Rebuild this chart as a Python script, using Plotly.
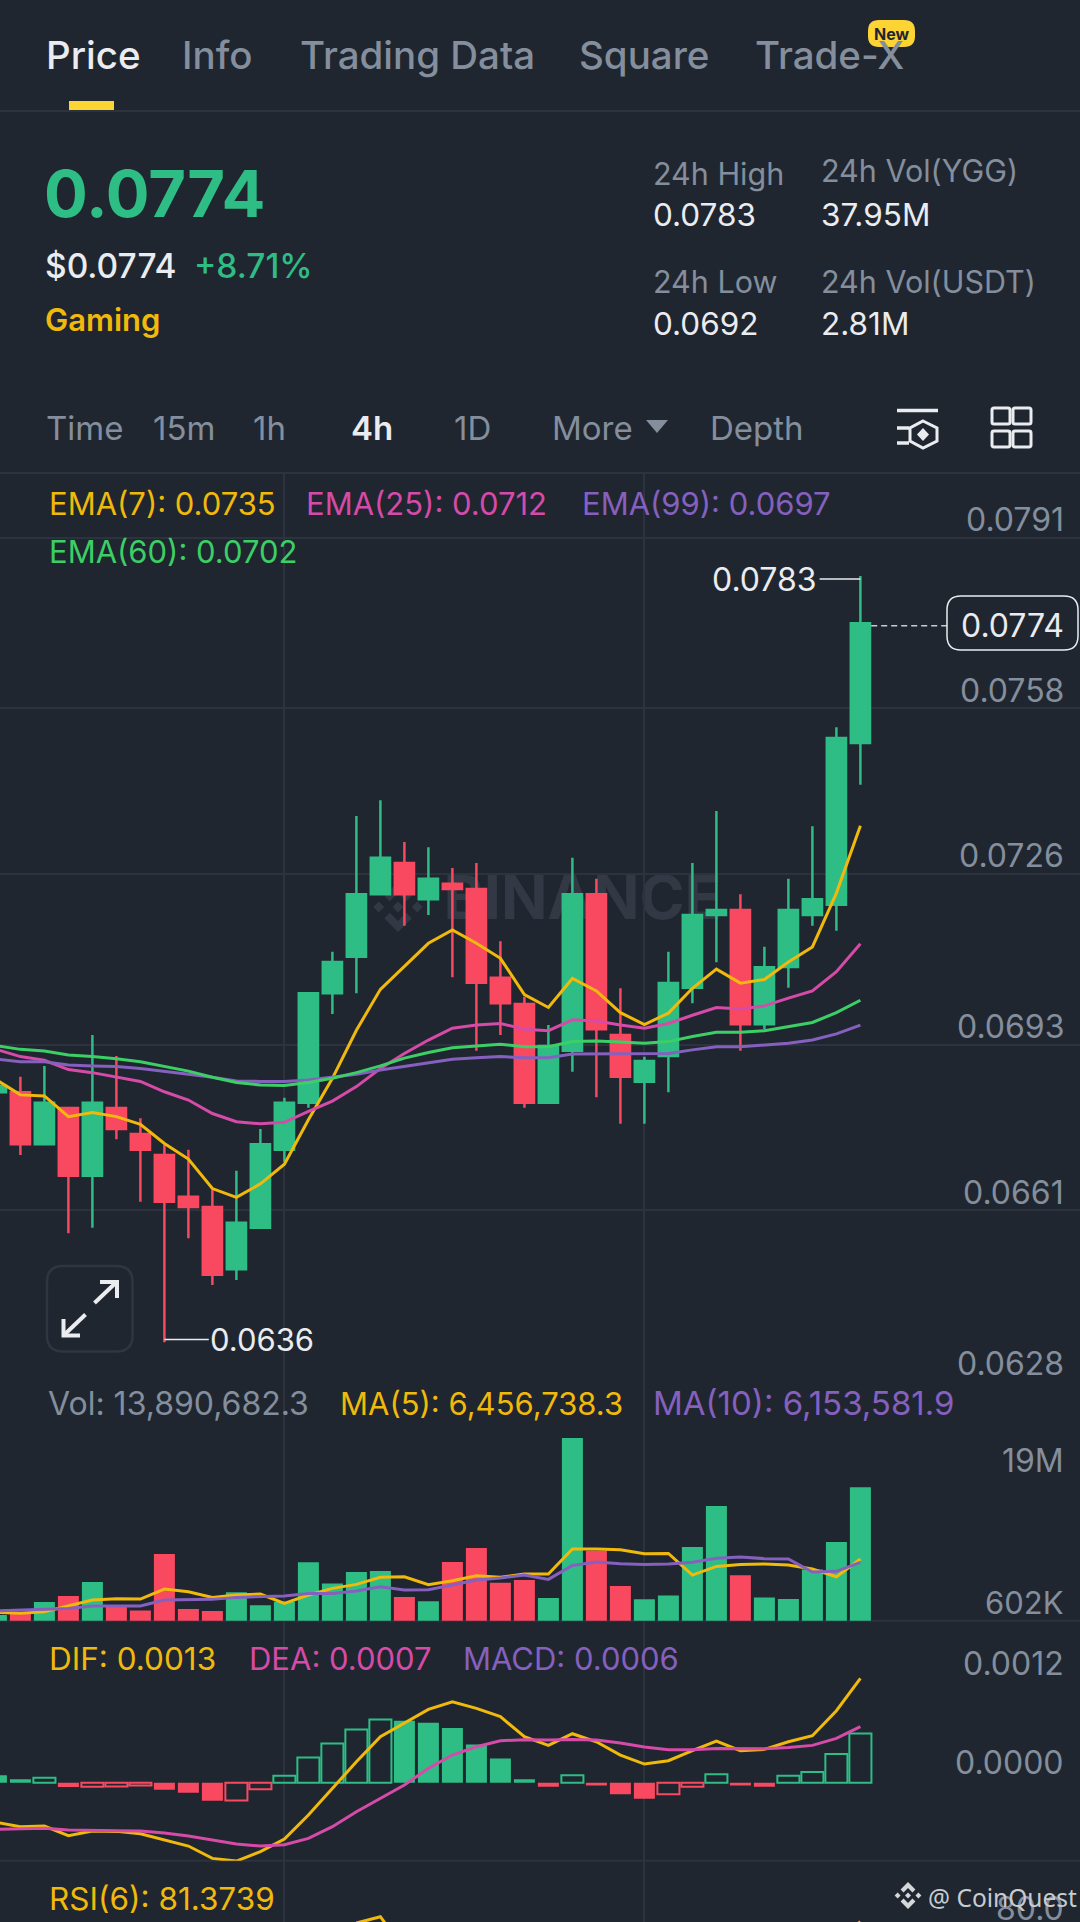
import plotly.graph_objects as go
from plotly.subplots import make_subplots

W, H = 1080, 1922
FONT = "Inter"

BG = "#1f2630"
GRID = "#2c333e"
GREY = "#848e9c"
WHITE = "#eaecef"
UP = "#2ebd85"
DOWN = "#f84960"
YELLOW = "#f0b90b"
PINK = "#d64aa8"
PURPLE = "#8560bf"
LIME = "#3ccf65"

# 4h candles, oldest first
candle = list(range(37))
opens = [0.06838, 0.06838, 0.067375, 0.068077, 0.066768, 0.068077, 0.067574, 0.067168, 0.066362, 0.066163,
         0.064959, 0.065763, 0.06727, 0.068179, 0.070293, 0.071001, 0.072207, 0.072812, 0.07211, 0.072412,
         0.07231, 0.070595, 0.070087, 0.068179, 0.069184, 0.072207, 0.069487, 0.068585, 0.069082, 0.070402,
         0.071807, 0.071904, 0.069694, 0.070802, 0.071807, 0.072006, 0.075132]
highs = [0.0685, 0.068682, 0.068888, 0.068077, 0.069487, 0.069082, 0.067877, 0.067361, 0.06727, 0.066491,
         0.066865, 0.067671, 0.068275, 0.070293, 0.071098, 0.073721, 0.074024, 0.073218, 0.073116, 0.072715,
         0.072812, 0.071299, 0.070228, 0.069681, 0.072915, 0.072509, 0.07039, 0.069068, 0.071098, 0.072812,
         0.073817, 0.072207, 0.071194, 0.072509, 0.073521, 0.075435, 0.07836]
lows = [0.06838, 0.067168, 0.067375, 0.065655, 0.065763, 0.067471, 0.066265, 0.063548, 0.065558, 0.064655,
        0.064752, 0.065763, 0.067039, 0.068083, 0.069893, 0.070293, 0.072207, 0.0716, 0.071807, 0.070603,
        0.069184, 0.069487, 0.068083, 0.068179, 0.068778, 0.068283, 0.067773, 0.067773, 0.06838, 0.0701,
        0.070893, 0.069184, 0.069598, 0.070402, 0.0716, 0.071503, 0.074326]
closes = [0.0685, 0.067375, 0.068179, 0.066768, 0.068179, 0.067671, 0.06727, 0.066265, 0.066163, 0.064854,
          0.065859, 0.067375, 0.068179, 0.070293, 0.070899, 0.072207, 0.072915, 0.072207, 0.072509, 0.07231,
          0.070499, 0.0701, 0.068179, 0.069275, 0.072207, 0.069598, 0.068682, 0.068985, 0.070493, 0.071807,
          0.071904, 0.069694, 0.070796, 0.071904, 0.07211, 0.075228, 0.077445]

ema7 = [0.06862, 0.06833, 0.06831, 0.06791, 0.06799, 0.06791, 0.06776, 0.06739, 0.06709, 0.06652,
        0.06635, 0.06661, 0.06699, 0.06785, 0.06865, 0.06958, 0.07037, 0.07081, 0.07126, 0.07152,
        0.07126, 0.07097, 0.07027, 0.07002, 0.07058, 0.07034, 0.06992, 0.06969, 0.06991, 0.07039,
        0.07076, 0.07049, 0.07056, 0.0709, 0.07119, 0.07223, 0.07353]
ema25 = [0.06921, 0.06907, 0.069, 0.06882, 0.06876, 0.06868, 0.06859, 0.06839, 0.06823, 0.06797,
         0.06781, 0.06777, 0.0678, 0.06801, 0.06821, 0.06849, 0.06884, 0.06913, 0.06939, 0.06962,
         0.06968, 0.06971, 0.0696, 0.06957, 0.06978, 0.06976, 0.06968, 0.06962, 0.06971, 0.06987,
         0.07002, 0.06999, 0.07005, 0.0702, 0.07034, 0.07071, 0.07125]
ema60 = [0.06928, 0.06921, 0.06918, 0.0691, 0.06907, 0.06903, 0.06897, 0.06888, 0.06879, 0.06867,
         0.06857, 0.06852, 0.06851, 0.06857, 0.06865, 0.06876, 0.06889, 0.06904, 0.06915, 0.06924,
         0.06928, 0.06931, 0.06926, 0.06926, 0.06936, 0.06937, 0.06935, 0.06933, 0.06936, 0.06946,
         0.06954, 0.06954, 0.06957, 0.06965, 0.06973, 0.06992, 0.07016]
ema99 = [0.06902, 0.06897, 0.06897, 0.06891, 0.06889, 0.06888, 0.06884, 0.06879, 0.06873, 0.06867,
         0.0686, 0.06859, 0.06859, 0.06862, 0.06868, 0.06873, 0.06881, 0.06888, 0.06894, 0.06902,
         0.06905, 0.06907, 0.06905, 0.06905, 0.06912, 0.06912, 0.06912, 0.06912, 0.06913, 0.0692,
         0.06926, 0.06926, 0.06929, 0.06933, 0.06939, 0.06951, 0.06968]

# volume in millions
volume = [1.17, 1.41, 2.48, 3.09, 4.5, 2.01, 1.64, 7.32, 1.78, 1.58,
          3.46, 2.15, 2.52, 6.48, 4.36, 5.5, 5.6, 2.99, 2.55, 6.51,
          7.92, 4.43, 4.7, 2.89, 19.0, 7.65, 4.09, 2.75, 3.15, 8.02,
          12.15, 5.17, 2.95, 2.78, 5.77, 8.52, 14.03]
vol_ma5 = [1.44, 1.34, 1.51, 2.08, 2.68, 2.82, 2.78, 3.79, 3.52, 2.95,
           3.19, 3.29, 2.35, 3.19, 3.86, 4.26, 4.97, 5.03, 4.23, 4.63,
           5.13, 4.97, 5.3, 5.3, 7.82, 7.82, 7.75, 7.35, 7.38, 5.2,
           6.07, 6.27, 6.31, 6.21, 5.81, 5.03, 6.81]
vol_ma10 = [1.58, 1.68, 1.74, 1.84, 2.08, 2.11, 2.08, 2.68, 2.72, 2.75,
            2.95, 3.02, 3.09, 3.35, 3.35, 3.59, 4.03, 3.69, 3.72, 4.19,
            4.7, 4.9, 5.2, 4.76, 6.17, 6.51, 6.34, 6.27, 6.31, 6.48,
            6.88, 7.01, 6.85, 6.81, 5.5, 5.57, 6.48]

dif = [-0.000484, -0.000537, -0.000529, -0.000647, -0.00059, -0.000594, -0.000623, -0.0007, -0.000773, -0.000924,
       -0.000956, -0.000842, -0.000688, -0.000395, -0.000069, 0.000256, 0.000562, 0.000732, 0.000895, 0.000989,
       0.000907, 0.000806, 0.000562, 0.000456, 0.000598, 0.0005, 0.000338, 0.000228, 0.000269, 0.000391,
       0.000509, 0.000391, 0.000407, 0.0005, 0.000574, 0.000879, 0.001274]
dea = [-0.00057, -0.000562, -0.000557, -0.000578, -0.000586, -0.000586, -0.00059, -0.000614, -0.000651, -0.000704,
       -0.000749, -0.000773, -0.000757, -0.00068, -0.000537, -0.000354, -0.000191, -0.000028, 0.000175, 0.000338,
       0.000439, 0.000513, 0.000525, 0.000521, 0.000529, 0.000521, 0.000484, 0.000435, 0.000403, 0.000403,
       0.000419, 0.000415, 0.000415, 0.000431, 0.000456, 0.000541, 0.000684]
macd = [0.00009, 0.000041, 0.000061, -0.000053, -0.000049, -0.000047, -0.000033, -0.000085, -0.000122, -0.00022,
        -0.000216, -0.000081, 0.000086, 0.000309, 0.00048, 0.000651, 0.000773, 0.000757, 0.000732, 0.000667,
        0.000468, 0.000297, 0.000041, -0.000049, 0.00009, -0.000033, -0.000142, -0.000195, -0.000142, -0.000049,
        0.000102, -0.000033, -0.000049, 0.000086, 0.00013, 0.00035, 0.000602]

# only the tips of the RSI line show above the page edge
rsi = [None] * 15 + [80.8, 83.4, 70.0] + [None] * 17 + [74.0, 81.37]

price_ticks = [0.0791, 0.0758, 0.0726, 0.0693, 0.0661, 0.0628]
last_price = 0.0774
period_high = 0.0783
period_low = 0.0636


def px(x):
    return x / W


def py(y):
    return 1 - y / H


def pt(x, y):
    return f"{px(x):.5f},{py(y):.5f}"


def poly(points):
    return "M" + " L".join(pt(x, y) for x, y in points) + " Z"


def round_rect(x0, y0, x1, y1, r):
    return ("M" + pt(x0 + r, y0) + " L" + pt(x1 - r, y0) + " Q" + pt(x1, y0) + " " + pt(x1, y0 + r)
            + " L" + pt(x1, y1 - r) + " Q" + pt(x1, y1) + " " + pt(x1 - r, y1)
            + " L" + pt(x0 + r, y1) + " Q" + pt(x0, y1) + " " + pt(x0, y1 - r)
            + " L" + pt(x0, y0 + r) + " Q" + pt(x0, y0) + " " + pt(x0 + r, y0) + " Z")


fig = make_subplots(rows=4, cols=1, shared_xaxes=True)

fig.add_trace(go.Candlestick(
    x=candle, open=opens, high=highs, low=lows, close=closes,
    increasing=dict(line=dict(color=UP, width=2.5), fillcolor=UP),
    decreasing=dict(line=dict(color=DOWN, width=2.5), fillcolor=DOWN),
    whiskerwidth=0, showlegend=False), row=1, col=1)
for series, colour in [(ema7, YELLOW), (ema25, PINK), (ema99, PURPLE), (ema60, LIME)]:
    fig.add_trace(go.Scatter(x=candle, y=series, mode="lines", line=dict(color=colour, width=3),
                             showlegend=False), row=1, col=1)

vol_colors = [UP if c >= o else DOWN for o, c in zip(opens, closes)]
fig.add_trace(go.Bar(x=candle, y=volume, width=0.875, marker=dict(color=vol_colors, line=dict(width=0)),
                     showlegend=False), row=2, col=1)
fig.add_trace(go.Scatter(x=candle, y=vol_ma5, mode="lines", line=dict(color=YELLOW, width=3),
                         showlegend=False), row=2, col=1)
fig.add_trace(go.Scatter(x=candle, y=vol_ma10, mode="lines", line=dict(color=PURPLE, width=3),
                         showlegend=False), row=2, col=1)

# a bar that rose from the previous one is drawn hollow
hollow = [i > 0 and macd[i] > macd[i - 1] for i in candle]
macd_base = [UP if v >= 0 else DOWN for v in macd]
fig.add_trace(go.Bar(
    x=candle, y=macd,
    width=[0.92 if h else 0.875 for h in hollow],
    marker=dict(color=["rgba(0,0,0,0)" if h else c for h, c in zip(hollow, macd_base)],
                line=dict(color=macd_base, width=[2 if h else 0 for h in hollow])),
    showlegend=False), row=3, col=1)
fig.add_trace(go.Scatter(x=candle, y=dif, mode="lines", line=dict(color=YELLOW, width=3),
                         showlegend=False), row=3, col=1)
fig.add_trace(go.Scatter(x=candle, y=dea, mode="lines", line=dict(color=PINK, width=3),
                         showlegend=False), row=3, col=1)

fig.add_trace(go.Scatter(x=candle, y=rsi, mode="lines", line=dict(color=YELLOW, width=3),
                         showlegend=False), row=4, col=1)

# panel edges in page pixels
panels = [(473, 1381), (1381, 1620.7), (1620.7, 1860.7), (1860.7, 1922)]
y_ranges = [[0.0628, 0.08035], [0.602, 24.74], [-0.000952, 0.001978], [81.23, 106.4]]
for n, ((top, bottom), yr) in enumerate(zip(panels, y_ranges), start=1):
    fig.update_yaxes(domain=[1 - bottom / H, 1 - top / H], range=yr, showticklabels=False, ticks="",
                     zeroline=False, showgrid=(n == 1), gridcolor=GRID, gridwidth=1.5,
                     tickmode="array", tickvals=price_ticks if n == 1 else [], row=n, col=1)
    fig.update_xaxes(range=[0.15, 45.15], showticklabels=False, ticks="", zeroline=False,
                     showgrid=True, gridcolor=GRID, gridwidth=1.5, tickmode="array", tickvals=[12, 27],
                     rangeslider=dict(visible=False), row=n, col=1)

shapes = []
annos = []


def text(s, x, y, color, size, weight=400, anchor="left", family=FONT):
    annos.append(dict(text=s, x=px(x), y=py(y), xref="paper", yref="paper", showarrow=False,
                      xanchor=anchor, yanchor="middle", borderpad=0,
                      font=dict(family=family, size=size, color=color, weight=weight)))


def page_line(x0, y0, x1, y1, color=GRID, width=2, layer="below"):
    shapes.append(dict(type="line", xref="paper", yref="paper", x0=px(x0), y0=py(y0), x1=px(x1), y1=py(y1),
                       line=dict(color=color, width=width), layer=layer))


def page_path(path, fill=None, line=None, width=0, layer="above"):
    shapes.append(dict(type="path", xref="paper", yref="paper", path=path, fillcolor=fill or "rgba(0,0,0,0)",
                       line=dict(color=line or "rgba(0,0,0,0)", width=width), layer=layer))


def logo(cx, cy, r, color, layer):
    u = [(0, -1), (.55, -.45), (.33, -.23), (0, -.56), (-.33, -.23), (-.55, -.45)]
    page_path(poly([(cx + a * r, cy + b * r) for a, b in u]), fill=color, layer=layer)
    page_path(poly([(cx + a * r, cy - b * r) for a, b in u]), fill=color, layer=layer)
    for dx in (-.77, 0, .77):
        page_path(poly([(cx + (dx + a) * r, cy + b * r) for a, b in [(0, -.22), (.22, 0), (0, .22), (-.22, 0)]]),
                  fill=color, layer=layer)


# separators
for sep_y in (111, 473, 1620.7, 1860.7):
    page_line(0, sep_y, W, sep_y)

# BINANCE mark behind the candles
logo(398, 907, 25, "#323944", "below")
shapes.append(dict(type="rect", xref="paper", yref="paper", x0=px(440), x1=px(725), y0=py(934), y1=py(856),
                   line=dict(width=0), fillcolor="rgba(0,0,0,0)", layer="below",
                   label=dict(text="BINANCE", textposition="middle center",
                              font=dict(family=FONT, size=61, color="#323944", weight=700))))

# tabs
for label, x, colour in [("Price", 45, WHITE), ("Info", 181, GREY), ("Trading Data", 299, GREY),
                         ("Square", 578, GREY), ("Trade-X", 754, GREY)]:
    text(label, x, 55, colour, 38.5, 500)
page_path(round_rect(868, 20, 915, 47, 11), fill="#fcd535")
text("New", 891.5, 34, "#1f2630", 16, 700, "center")
page_path(poly([(69, 101), (114, 101), (114, 110), (69, 110)]), fill="#fcd535")

# price block
text("0.0774", 43, 193, UP, 65, 700)
text("$0.0774", 44, 266, WHITE, 33.5, 500)
text("+8.71%", 193, 266, UP, 33.5, 500)
text("Gaming", 44, 320, YELLOW, 31, 600)
text("24h High", 652, 174, GREY, 30.5)
text("0.0783", 652, 215, WHITE, 31.5, 400)
text("24h Vol(YGG)", 820, 170, GREY, 30.5)
text("37.95M", 820, 215, WHITE, 31.5, 400)
text("24h Low", 652, 281, GREY, 30.5)
text("0.0692", 652, 323, WHITE, 31.5, 400)
text("24h Vol(USDT)", 820, 281, GREY, 30.5)
text("2.81M", 820, 323, WHITE, 31.5, 400)

# toolbar
for label, x, colour, wt in [("Time", 45, GREY, 400), ("15m", 152, GREY, 400), ("1h", 252, GREY, 400),
                             ("4h", 350, WHITE, 600), ("1D", 453, GREY, 400), ("More", 551, GREY, 400),
                             ("Depth", 709, GREY, 400)]:
    text(label, x, 428, colour, 33, wt)
page_path(poly([(646, 420), (668, 420), (657, 433)]), fill=GREY)
page_line(897, 410.5, 938, 410.5, WHITE, 3.5, "above")
page_line(897, 428, 909, 428, WHITE, 3.5, "above")
page_line(897, 443, 909, 443, WHITE, 3.5, "above")
page_path(poly([(923, 421), (937, 428), (937, 441), (923, 448), (910, 441), (910, 428)]), line=WHITE, width=3)
page_path(poly([(923, 428), (929, 434.5), (923, 441), (917, 434.5)]), fill=WHITE)
for x0, x1 in [(992, 1010), (1013, 1031)]:
    for y0, y1 in [(408, 424), (431, 447)]:
        page_path(round_rect(x0, y0, x1, y1, 2), line=WHITE, width=3)

# price legend
text("EMA(7): 0.0735", 48, 503, YELLOW, 31)
text("EMA(25): 0.0712", 305, 503, PINK, 31)
text("EMA(99): 0.0697", 581, 503, PURPLE, 31)
text("EMA(60): 0.0702", 48, 551, LIME, 31)

# price ticks sit just above their grid lines
for t in price_ticks:
    annos.append(dict(text=f"{t:.4f}", x=px(1065), xref="paper", y=t, yref="y", yshift=18, showarrow=False,
                      xanchor="right", yanchor="middle", borderpad=0,
                      font=dict(family=FONT, size=32, color=GREY)))

# high / low callouts
shapes.append(dict(type="line", xref="x", yref="y", x0=34.3, x1=36, y0=period_high, y1=period_high,
                   line=dict(color=WHITE, width=1.5), layer="above"))
shapes.append(dict(type="line", xref="x", yref="y", x0=7, x1=8.85, y0=period_low, y1=period_low,
                   line=dict(color=WHITE, width=1.5), layer="above"))
annos.append(dict(text=f"{period_high:.4f}", x=34.25, xref="x", y=period_high, yref="y", showarrow=False,
                  xanchor="right", yanchor="middle", borderpad=0, font=dict(family=FONT, size=32, color=WHITE)))
annos.append(dict(text=f"{period_low:.4f}", x=8.85, xref="x", y=period_low, yref="y", showarrow=False,
                  xanchor="left", yanchor="middle", borderpad=0, font=dict(family=FONT, size=31, color=WHITE)))

# last price
shapes.append(dict(type="line", xref="x", yref="y", x0=36.45, x1=39.6, y0=last_price, y1=last_price,
                   line=dict(color="#c9ccd1", width=1.5, dash="6px,4px"), layer="above"))
page_path(round_rect(947, 596, 1078, 650, 14), fill=BG, line=WHITE, width=1.5)
annos.append(dict(text=f"{last_price:.4f}", x=px(1065), xref="paper", y=last_price, yref="y", showarrow=False,
                  xanchor="right", yanchor="middle", borderpad=0, font=dict(family=FONT, size=32, color=WHITE)))

# expand button
page_path(round_rect(47, 1266, 132.5, 1351.5, 16), line="#2f3640", width=2.5)
page_line(94.5, 1303, 116, 1282.5, WHITE, 4, "above")
page_line(85.5, 1314.5, 64, 1335, WHITE, 4, "above")
page_path("M" + pt(100, 1282) + " L" + pt(117, 1282) + " L" + pt(117, 1298), line=WHITE, width=4)
page_path("M" + pt(63.5, 1319) + " L" + pt(63.5, 1335.5) + " L" + pt(80, 1335.5), line=WHITE, width=4)

# volume panel text
text("Vol: 13,890,682.3", 47, 1403, GREY, 32)
text("MA(5): 6,456,738.3", 339, 1403, YELLOW, 31)
text("MA(10): 6,153,581.9", 652, 1403, PURPLE, 33)
text("19M", 1065, 1460, GREY, 32, anchor="right")
text("602K", 1065, 1602, GREY, 31, anchor="right")

# macd panel text
text("DIF: 0.0013", 48, 1658, YELLOW, 31.5)
text("DEA: 0.0007", 248, 1658, PINK, 31)
text("MACD: 0.0006", 462, 1658, PURPLE, 31)
text("0.0012", 1065, 1663, GREY, 32, anchor="right")
text("0.0000", 1065, 1762, GREY, 32, anchor="right")

# rsi panel text
text("RSI(6): 81.3739", 48, 1898, YELLOW, 31.5)
text("80.0", 1065, 1908, GREY, 32, anchor="right")

# share watermark
logo(908, 1895.5, 13.5, "#d5d7da", "above")
text("@ CoinQuest", 927, 1897, "#c8cbd0", 24.5, family="Noto Sans")

fig.update_layout(width=W, height=H, margin=dict(l=0, r=0, t=0, b=0), paper_bgcolor=BG, plot_bgcolor=BG,
                  boxgap=0.2, boxgroupgap=0, barmode="overlay", showlegend=False, shapes=shapes, annotations=annos)

fig.write_html("out.html", config=dict(displayModeBar=False),
               post_script="document.body.style.margin='0';document.body.style.overflow='hidden';document.body.style.background='" + BG + "';")
